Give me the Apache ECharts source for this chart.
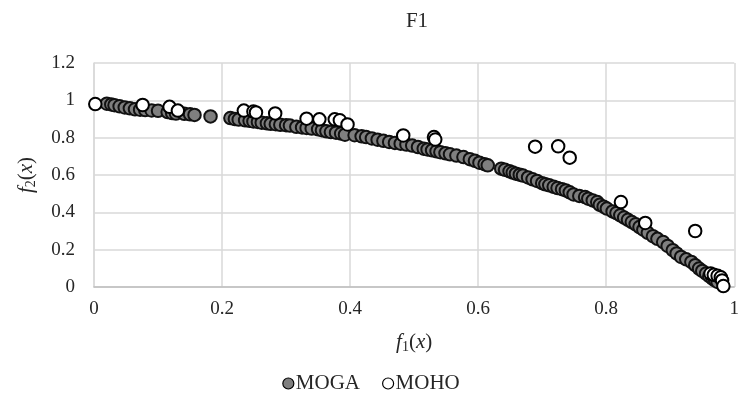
<!DOCTYPE html>
<html><head><meta charset="utf-8">
<script src="https://cdn.jsdelivr.net/npm/echarts@6/dist/echarts.min.js"></script>
<style>html,body{margin:0;padding:0;background:#fff}#c{width:742px;height:408px}</style>
</head><body><div id="c"></div>
<script>
const titleText = 'F1';
const seriesNames = ['MOGA', 'MOHO'];
const xTicks = [0, 0.2, 0.4, 0.6, 0.8, 1];
const yTicks = [0, 0.2, 0.4, 0.6, 0.8, 1, 1.2];
const mogaF1 = [0.020,0.027,0.032,0.040,0.048,0.056,0.064,0.072,0.080,0.090,0.100,0.115,0.122,0.128,0.141,0.150,0.157,0.182,
0.213,0.220,0.226,0.236,0.243,0.249,0.256,0.262,0.270,0.276,0.284,0.291,0.300,0.306,0.316,0.325,0.332,0.340,0.350,0.356,0.363,0.370,0.378,0.386,0.392,
0.407,0.418,0.425,0.434,0.443,0.452,0.461,0.470,0.479,0.488,0.497,0.506,0.515,0.521,0.528,0.535,0.541,0.549,0.556,0.566,0.577,0.587,0.595,0.602,0.610,0.615,
0.636,0.642,0.649,0.654,0.659,0.665,0.670,0.678,0.685,0.692,0.700,0.705,0.711,0.718,0.724,0.731,0.737,0.743,0.749,0.758,0.767,0.772,0.779,0.786,
0.790,0.796,0.801,0.810,0.816,0.822,0.828,0.834,0.840,0.846,0.852,0.858,0.865,0.873,0.880,0.889,0.896,0.904,0.910,0.917,0.925,0.933,0.939,0.945,0.950,0.956,0.961,0.966,0.970,0.974];
const mogaF2 = [0.982,0.978,0.974,0.968,0.962,0.957,0.952,0.950,0.948,0.946,0.944,0.937,0.932,0.929,0.928,0.925,0.922,0.914,
0.905,0.900,0.897,0.893,0.890,0.887,0.884,0.880,0.877,0.874,0.872,0.869,0.867,0.865,0.858,0.855,0.852,0.849,0.845,0.840,0.834,0.830,0.827,0.822,0.816,
0.813,0.807,0.803,0.796,0.789,0.783,0.777,0.772,0.768,0.763,0.758,0.750,0.741,0.737,0.732,0.727,0.722,0.716,0.711,0.704,0.696,0.685,0.676,0.666,0.658,0.652,
0.634,0.628,0.620,0.613,0.607,0.602,0.597,0.587,0.577,0.568,0.556,0.550,0.545,0.537,0.530,0.524,0.517,0.507,0.496,0.488,0.482,0.473,0.464,0.455,
0.440,0.430,0.420,0.405,0.396,0.384,0.372,0.360,0.348,0.336,0.321,0.307,0.290,0.272,0.258,0.241,0.220,0.197,0.180,0.161,0.148,0.134,0.117,0.099,0.086,0.072,0.058,0.045,0.036,0.027];
const mohoF1 = [0.002,0.076,0.118,0.131,0.234,0.249,0.253,0.283,0.332,0.352,0.376,0.384,0.396,0.483,0.531,0.533,0.689,0.725,0.743,0.823,0.861,0.939,0.963,0.968,0.974,0.979,0.981,0.983];
const mohoF2 = [0.980,0.975,0.965,0.945,0.945,0.940,0.935,0.930,0.902,0.898,0.898,0.893,0.871,0.812,0.803,0.790,0.752,0.754,0.693,0.455,0.343,0.300,0.072,0.065,0.060,0.052,0.035,0.005];

const zip = (a, b) => a.map((v, i) => [v, b[i]]);
const FONT = '"Liberation Serif","Times New Roman",serif';
const TXT = '#262626';
const nameRich = {
  i: {fontFamily: FONT, fontStyle: 'italic', fontSize: 21, color: TXT},
  n: {fontFamily: FONT, fontSize: 21, color: TXT},
  s: {fontFamily: FONT, fontSize: 14, color: TXT, verticalAlign: 'bottom', padding: [9, 0, 0, 0]}
};
const chart = echarts.init(document.getElementById('c'), null, {renderer: 'canvas'});
chart.setOption({
  backgroundColor: '#ffffff',
  animation: false,
  legend: {
    bottom: 9, left: 'center', itemWidth: 11, itemHeight: 11, itemGap: 22,
    textStyle: {fontFamily: FONT, fontSize: 21, color: TXT, padding: [0, 0, 0, -3]},
    data: [
      {name: seriesNames[0], icon: 'circle', itemStyle: {color: '#7f7f7f', borderColor: '#000', borderWidth: 1.2}},
      {name: seriesNames[1], icon: 'circle', itemStyle: {color: '#fff', borderColor: '#000', borderWidth: 1.2}}
    ]
  },
  grid: {left: 94, right: 2, top: 63, bottom: 121, containLabel: false},
  xAxis: {
    type: 'value', min: xTicks[0], max: xTicks[xTicks.length - 1], interval: 0.2,
    name: '{i|f}{s|1}{n|(}{i|x}{n|)}', nameLocation: 'middle', nameGap: 44,
    nameTextStyle: {rich: nameRich},
    axisLine: {show: true, lineStyle: {color: '#bfbfbf', width: 1.5}},
    axisTick: {show: false},
    axisLabel: {margin: 13, fontFamily: FONT, fontSize: 19, color: TXT, formatter: v => String(+v.toFixed(1))},
    splitLine: {show: true, lineStyle: {color: '#d9d9d9', width: 1.5}}
  },
  yAxis: {
    type: 'value', min: yTicks[0], max: yTicks[yTicks.length - 1], interval: 0.2,
    name: '{i|f}{s|2}{n|(}{i|x}{n|)}', nameLocation: 'middle', nameRotate: 90, nameGap: 56,
    nameTextStyle: {rich: nameRich},
    axisLine: {show: true, lineStyle: {color: '#d9d9d9', width: 1.5}},
    axisTick: {show: false},
    axisLabel: {margin: 19, fontFamily: FONT, fontSize: 19, color: TXT, formatter: v => String(+v.toFixed(1))},
    splitLine: {show: true, lineStyle: {color: '#d9d9d9', width: 1.5}}
  },
  graphic: [
    {type: 'text', x: 417, y: 21, style: {text: titleText, textAlign: 'center', textVerticalAlign: 'middle', font: '21px ' + FONT, fill: TXT}}
  ],
  series: [
    {name: seriesNames[0], type: 'scatter', data: zip(mogaF1, mogaF2), symbol: 'circle', symbolSize: 12.5,
     itemStyle: {color: '#7f7f7f', borderColor: '#111', borderWidth: 2, opacity: 1}, z: 2},
    {name: seriesNames[1], type: 'scatter', data: zip(mohoF1, mohoF2), symbol: 'circle', symbolSize: 12.5,
     itemStyle: {color: '#ffffff', borderColor: '#000', borderWidth: 2, opacity: 1}, z: 3}
  ]
});
</script></body></html>
